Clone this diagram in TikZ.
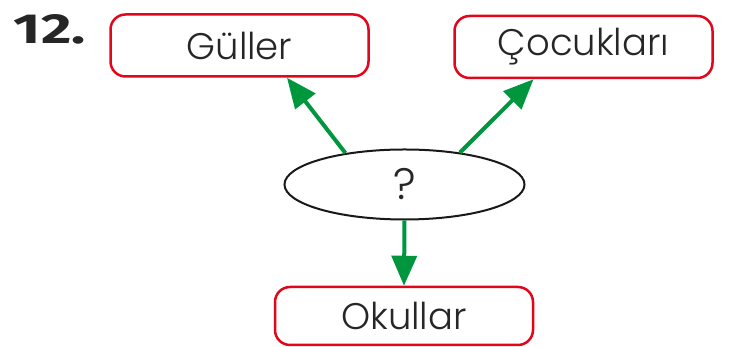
\documentclass[tikz,border=0pt]{standalone}
\usepackage{fontspec}
\setmainfont{Poppins}[UprightFont=* Light]
\newfontfamily\numfont{Fira Sans}
\usepackage{xcolor}
\usetikzlibrary{shapes.geometric,arrows.meta,positioning}

\definecolor{boxred}{RGB}{226,6,26}
\definecolor{arrowgreen}{RGB}{0,150,62}

\begin{document}
\begin{tikzpicture}[x=1pt,y=1pt,>={Triangle[length=30pt,width=25pt]},
  word/.style={rectangle,rounded corners=15pt,draw=boxred,line width=2.5pt,minimum width=258pt,minimum height=62pt,font=\fontsize{37}{40}\selectfont,text=black!85},
  guess/.style={ellipse,draw=black!90,line width=2pt,minimum width=240pt,minimum height=70pt,inner sep=0pt,font=\fontsize{44}{46}\selectfont,text=black!85}]
 \useasboundingbox (0,0) rectangle (737,347);
 \node[anchor=base west,xscale=1.4,transform shape,text=black!85,font=\numfont\bfseries\fontsize{42}{44}\selectfont] (num) at (9,303) {12.};
 \node[word] (g) at (239.5,301.5) {Güller};
 \node[word] (c) at (583.5,300) {Çocukları};
 \node[word,minimum height=58pt] (o) at (404,31) {Okullar};
 \node[guess] (q) at (404.5,162.5) {?};

  \path[->,color=arrowgreen,line width=4pt]
  (q.152) edge ([xshift=47.5pt]g.south)
  (q.30) edge ([xshift=-50pt]c.south)
  (q.south) edge (o.north)
  ;
\end{tikzpicture}
\end{document}
